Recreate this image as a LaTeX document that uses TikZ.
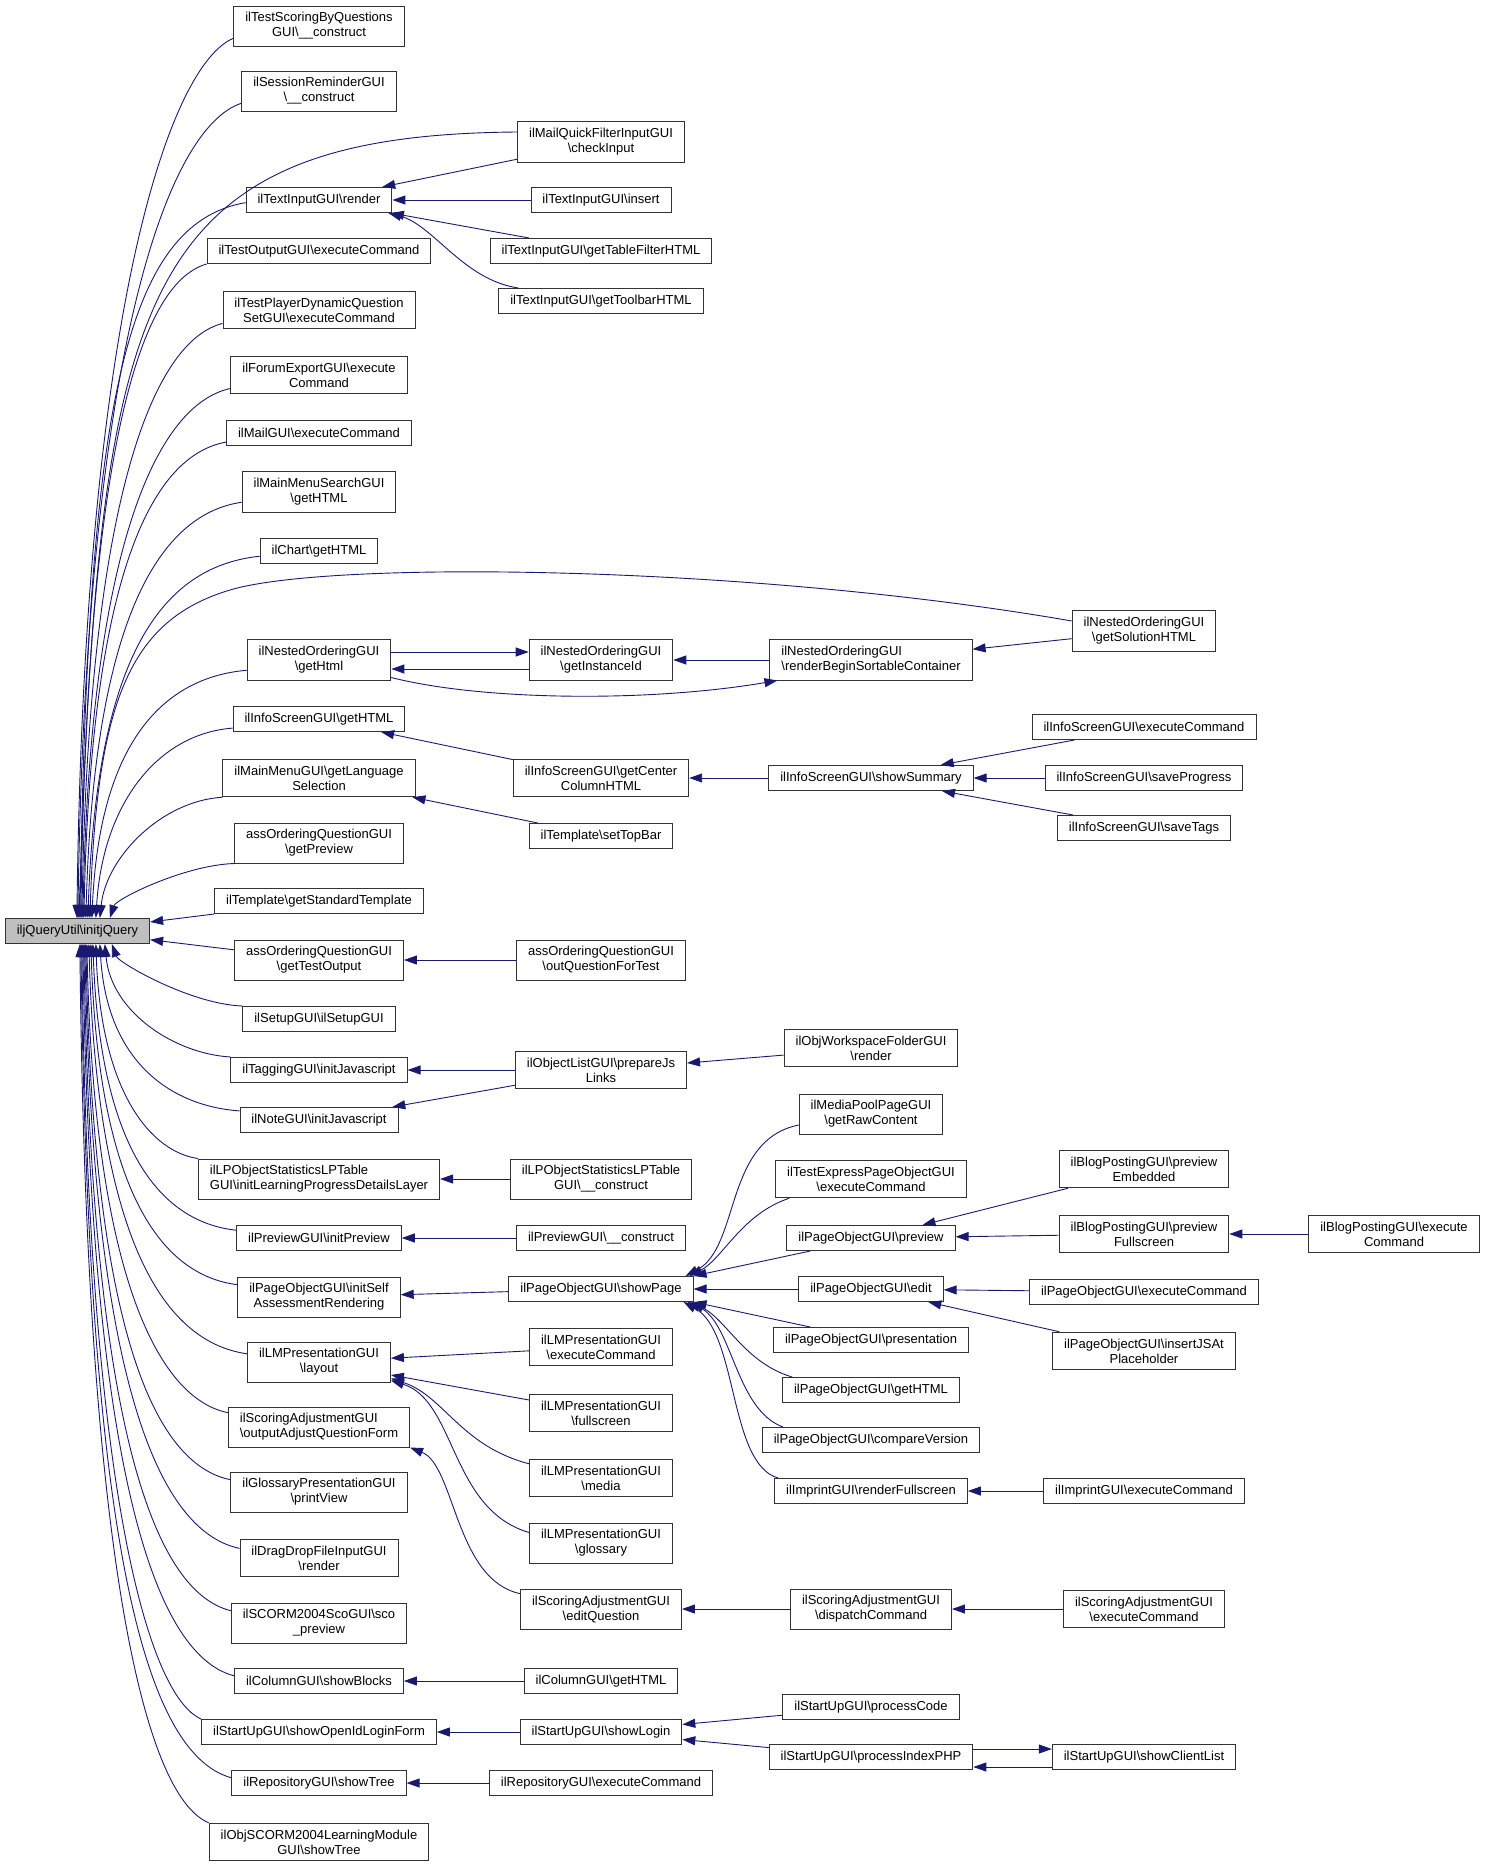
\documentclass[tikz,border=0pt]{standalone}
\usepackage{fontspec}
\setmainfont{Liberation Sans}
\usetikzlibrary{arrows.meta,calc}
\definecolor{edgeblue}{HTML}{191970}
\newcommand{\bsl}{\textbackslash}
\tikzset{
  fn/.style={draw=black!80, line width=0.9pt, fill=white, align=center,
    inner xsep=11.5pt, inner ysep=6.5pt, minimum height=25pt,
    font=\fontsize{13}{15}\selectfont},
  rootfn/.style={fn, fill=black!25},
  calls/.style={draw=edgeblue, line width=0.9pt, {Triangle[length=13pt,width=9pt]}-},
}
\begin{document}
\begin{tikzpicture}[x=1pt,y=1pt]
    \useasboundingbox (0,0) rectangle (1485,-1868);

    % the function itself
    \node[rootfn] (root) at (77.5,-931) {iljQueryUtil\bsl initjQuery};

    % direct callers
    \node[fn] (tsq) at (319,-26) {ilTestScoringByQuestions\\GUI\bsl\_\_construct};
    \node[fn] (srem) at (319,-91) {ilSessionReminderGUI\\\bsl\_\_construct};
    \node[fn] (tirender) at (319,-200) {ilTextInputGUI\bsl render};
    \node[fn] (toexec) at (319,-251) {ilTestOutputGUI\bsl executeCommand};
    \node[fn] (tpdyn) at (319,-310) {ilTestPlayerDynamicQuestion\\SetGUI\bsl executeCommand};
    \node[fn] (forum) at (319,-375) {ilForumExportGUI\bsl execute\\Command};
    \node[fn] (mailexec) at (319,-433) {ilMailGUI\bsl executeCommand};
    \node[fn] (mmsearch) at (319,-492) {ilMainMenuSearchGUI\\\bsl getHTML};
    \node[fn] (chart) at (319,-551) {ilChart\bsl getHTML};
    \node[fn] (nogethtml) at (319,-660) {ilNestedOrderingGUI\\\bsl getHtml};
    \node[fn] (isgethtml) at (319,-719) {ilInfoScreenGUI\bsl getHTML};
    \node[fn] (mmlang) at (319,-778) {ilMainMenuGUI\bsl getLanguage\\Selection};
    \node[fn] (aoprev) at (319,-843) {assOrderingQuestionGUI\\\bsl getPreview};
    \node[fn] (tplstd) at (319,-901) {ilTemplate\bsl getStandardTemplate};
    \node[fn] (aotest) at (319,-960) {assOrderingQuestionGUI\\\bsl getTestOutput};
    \node[fn] (setup) at (319,-1019) {ilSetupGUI\bsl ilSetupGUI};
    \node[fn] (tagjs) at (319,-1070) {ilTaggingGUI\bsl initJavascript};
    \node[fn] (notejs) at (319,-1120) {ilNoteGUI\bsl initJavascript};
    \node[fn, align=left] (lplayer) at (319,-1179) {ilLPObjectStatisticsLPTable\\GUI\bsl initLearningProgressDetailsLayer};
    \node[fn] (previnit) at (319,-1238) {ilPreviewGUI\bsl initPreview};
    \node[fn] (poself) at (319,-1297) {ilPageObjectGUI\bsl initSelf\\AssessmentRendering};
    \node[fn] (lmlayout) at (319,-1362) {ilLMPresentationGUI\\\bsl layout};
    \node[fn, align=left] (saform) at (319,-1427) {ilScoringAdjustmentGUI\\\bsl outputAdjustQuestionForm};
    \node[fn] (glossprint) at (319,-1492) {ilGlossaryPresentationGUI\\\bsl printView};
    \node[fn] (dragdrop) at (319,-1558) {ilDragDropFileInputGUI\\\bsl render};
    \node[fn] (scoprev) at (319,-1623) {ilSCORM2004ScoGUI\bsl sco\\\_preview};
    \node[fn] (colblocks) at (319,-1681) {ilColumnGUI\bsl showBlocks};
    \node[fn] (openid) at (319,-1732) {ilStartUpGUI\bsl showOpenIdLoginForm};
    \node[fn] (repotree) at (319,-1783) {ilRepositoryGUI\bsl showTree};
    \node[fn] (scormtree) at (319,-1842) {ilObjSCORM2004LearningModule\\GUI\bsl showTree};

    % second level
    \node[fn] (mqcheck) at (601,-142) {ilMailQuickFilterInputGUI\\\bsl checkInput};
    \node[fn] (tiinsert) at (601,-200) {ilTextInputGUI\bsl insert};
    \node[fn] (tifilter) at (601,-251) {ilTextInputGUI\bsl getTableFilterHTML};
    \node[fn] (titoolbar) at (601,-301) {ilTextInputGUI\bsl getToolbarHTML};
    \node[fn] (noinst) at (601,-660) {ilNestedOrderingGUI\\\bsl getInstanceId};
    \node[fn] (iscenter) at (601,-778) {ilInfoScreenGUI\bsl getCenter\\ColumnHTML};
    \node[fn] (tpltop) at (601,-836) {ilTemplate\bsl setTopBar};
    \node[fn] (aoout) at (601,-960) {assOrderingQuestionGUI\\\bsl outQuestionForTest};
    \node[fn] (oljs) at (601,-1070) {ilObjectListGUI\bsl prepareJs\\Links};
    \node[fn] (lpconst) at (601,-1179) {ilLPObjectStatisticsLPTable\\GUI\bsl\_\_construct};
    \node[fn] (prevconst) at (601,-1238) {ilPreviewGUI\bsl\_\_construct};
    \node[fn] (poshow) at (601,-1289) {ilPageObjectGUI\bsl showPage};
    \node[fn] (lmexec) at (601,-1347) {ilLMPresentationGUI\\\bsl executeCommand};
    \node[fn] (lmfull) at (601,-1413) {ilLMPresentationGUI\\\bsl fullscreen};
    \node[fn] (lmmedia) at (601,-1478) {ilLMPresentationGUI\\\bsl media};
    \node[fn] (lmgloss) at (601,-1543) {ilLMPresentationGUI\\\bsl glossary};
    \node[fn] (saedit) at (601,-1609) {ilScoringAdjustmentGUI\\\bsl editQuestion};
    \node[fn] (colhtml) at (601,-1681) {ilColumnGUI\bsl getHTML};
    \node[fn] (sulogin) at (601,-1732) {ilStartUpGUI\bsl showLogin};
    \node[fn] (repoexec) at (601,-1783) {ilRepositoryGUI\bsl executeCommand};

    % third level
    \node[fn, align=left] (norender) at (871,-660) {ilNestedOrderingGUI\\\bsl renderBeginSortableContainer};
    \node[fn] (issummary) at (871,-778) {ilInfoScreenGUI\bsl showSummary};
    \node[fn] (owsrender) at (871,-1048) {ilObjWorkspaceFolderGUI\\\bsl render};
    \node[fn] (mpraw) at (871,-1114) {ilMediaPoolPageGUI\\\bsl getRawContent};
    \node[fn] (tepexec) at (871,-1179) {ilTestExpressPageObjectGUI\\\bsl executeCommand};
    \node[fn] (poprev) at (871,-1238) {ilPageObjectGUI\bsl preview};
    \node[fn] (poedit) at (871,-1289) {ilPageObjectGUI\bsl edit};
    \node[fn] (popres) at (871,-1340) {ilPageObjectGUI\bsl presentation};
    \node[fn] (pohtml) at (871,-1390) {ilPageObjectGUI\bsl getHTML};
    \node[fn] (pocomp) at (871,-1440) {ilPageObjectGUI\bsl compareVersion};
    \node[fn] (imprfull) at (871,-1491) {ilImprintGUI\bsl renderFullscreen};
    \node[fn] (sadispatch) at (871,-1609) {ilScoringAdjustmentGUI\\\bsl dispatchCommand};
    \node[fn] (sucode) at (871,-1707) {ilStartUpGUI\bsl processCode};
    \node[fn] (suindex) at (871,-1757) {ilStartUpGUI\bsl processIndexPHP};

    % fourth and fifth level
    \node[fn] (nosol) at (1144,-631) {ilNestedOrderingGUI\\\bsl getSolutionHTML};
    \node[fn] (isexec) at (1144,-727) {ilInfoScreenGUI\bsl executeCommand};
    \node[fn] (isprog) at (1144,-778) {ilInfoScreenGUI\bsl saveProgress};
    \node[fn] (istags) at (1144,-828) {ilInfoScreenGUI\bsl saveTags};
    \node[fn] (bpemb) at (1144,-1169) {ilBlogPostingGUI\bsl preview\\Embedded};
    \node[fn] (bpfull) at (1144,-1234) {ilBlogPostingGUI\bsl preview\\Fullscreen};
    \node[fn] (poexec) at (1144,-1292) {ilPageObjectGUI\bsl executeCommand};
    \node[fn] (pojs) at (1144,-1351) {ilPageObjectGUI\bsl insertJSAt\\Placeholder};
    \node[fn] (imprexec) at (1144,-1491) {ilImprintGUI\bsl executeCommand};
    \node[fn] (saexec) at (1144,-1609) {ilScoringAdjustmentGUI\\\bsl executeCommand};
    \node[fn] (suclient) at (1144,-1757) {ilStartUpGUI\bsl showClientList};
    \node[fn] (bpexec) at (1394,-1234) {ilBlogPostingGUI\bsl execute\\Command};

    % callers above the root: name/tip/entry/rise/bend
    \foreach \nd/\tx/\ff/\bb/\cc in {tsq/72pt/0.8/0.7/0.4, srem/73pt/0.8/0.7/0.45,
        tirender/75pt/0.6/0.7/0.75, toexec/76pt/1/0.7/0.55, tpdyn/77pt/0.85/0.7/0.5,
        forum/78pt/0.85/0.7/0.5, mailexec/79pt/0.85/0.7/0.55, mmsearch/81pt/0.75/0.7/0.55,
        chart/83pt/0.7/0.7/0.6, nogethtml/87pt/0.75/0.7/0.55, isgethtml/91pt/0.85/0.6/0.55,
        mmlang/95pt/1/0.5/0.5, aoprev/105pt/1/0.35/0.4}
      \draw[calls] let \p1=([xshift=\tx]root.north west),
          \p2=($(\nd.north west)!\ff!(\nd.south west)$) in
        (\p1) .. controls ({\x1+0.05*(\x2-\x1)},{\y1+\bb*(\y2-\y1)})
          and ({\x2-\cc*(\x2-\x1)},{\y2-0.03*(\y2-\y1)}) .. (\p2);

    % callers below the root
    \foreach \nd/\tx/\ff/\bb/\cc in {setup/107pt/0/0.3/0.4, tagjs/100pt/0/0.6/0.45,
        notejs/95pt/0.15/0.7/0.5, lplayer/91pt/0/0.7/0.45, previnit/88pt/0.2/0.7/0.55,
        poself/86pt/0.2/0.7/0.55, lmlayout/84pt/0.3/0.7/0.55, saform/82pt/0.15/0.7/0.5,
        glossprint/81pt/0.2/0.7/0.55, dragdrop/80pt/0.25/0.7/0.55, scoprev/79pt/0.2/0.7/0.55,
        colblocks/78pt/0.3/0.7/0.55, openid/77pt/0/0.7/0.45, repotree/76pt/0.3/0.7/0.6,
        scormtree/75pt/0/0.7/0.5}
      \draw[calls] let \p1=([xshift=\tx]root.south west),
          \p2=($(\nd.north west)!\ff!(\nd.south west)$) in
        (\p1) .. controls ({\x1+0.05*(\x2-\x1)},{\y1+\bb*(\y2-\y1)})
          and ({\x2-\cc*(\x2-\x1)},{\y2-0.03*(\y2-\y1)}) .. (\p2);

    % long ones and the two next to the root
    \draw[calls] ([xshift=74pt]root.north west) .. controls (100,-300) and (130,-135)
        .. ([yshift=10pt]mqcheck.west);
    \draw[calls] ([xshift=85pt]root.north west) .. controls (97,-700) and (130,-620)
        .. (230,-590) .. controls (330,-560) and (750,-565) .. ([yshift=10pt]nosol.west);
    \draw[calls] (root) -- (tplstd);
    \draw[calls] (root) -- (aotest);

    % text input
    \draw[calls] (tirender) -- (mqcheck);
    \draw[calls] (tirender) -- (tiinsert);
    \draw[calls] (tirender) -- (tifilter);
    \draw[calls] ([xshift=-4pt]tirender.south east) .. controls +(45,-12) and +(-55,8)
        .. ([xshift=20pt]titoolbar.north west);

    % nested ordering
    \draw[calls] ([yshift=8pt]noinst.west) -- ([yshift=8pt]nogethtml.east);
    \draw[calls] ([yshift=-9pt]nogethtml.east) -- ([yshift=-9pt]noinst.west);
    \draw[calls] (noinst) -- (norender);
    \draw[calls] ([xshift=8pt]norender.south west) .. controls +(-130,-22) and +(90,-23)
        .. ([yshift=3pt]nogethtml.south east);
    \draw[calls] (norender) -- (nosol);

    % info screen
    \draw[calls] (isgethtml) -- (iscenter);
    \draw[calls] (mmlang) -- (tpltop);
    \draw[calls] (iscenter) -- (issummary);
    \draw[calls] (issummary) -- (isexec);
    \draw[calls] (issummary) -- (isprog);
    \draw[calls] (issummary) -- (istags);

    \draw[calls] (aotest) -- (aoout);
    \draw[calls] (tagjs) -- (oljs);
    \draw[calls] (notejs) -- (oljs);
    \draw[calls] (oljs) -- (owsrender);
    \draw[calls] (lplayer) -- (lpconst);
    \draw[calls] (previnit) -- (prevconst);
    \draw[calls] (poself) -- (poshow);

    % page object
    \draw[calls] ([xshift=-8pt]poshow.north east) .. controls +(55,29) and +(-75,-15)
        .. ([yshift=-11pt]mpraw.west);
    \draw[calls] ([xshift=-4pt]poshow.north east) .. controls +(33,17) and +(-48,-16)
        .. ([xshift=14pt]tepexec.south west);
    \draw[calls] (poshow.north east) -- (poprev);
    \draw[calls] (poshow) -- (poedit);
    \draw[calls] (poshow.south east) -- (popres);
    \draw[calls] ([xshift=-2pt]poshow.south east) .. controls +(35,-18) and +(-47,14)
        .. ([xshift=10pt]pohtml.north west);
    \draw[calls] ([xshift=-6pt]poshow.south east) .. controls +(45,-20) and +(-48,18)
        .. ([xshift=21pt]pocomp.north west);
    \draw[calls] ([xshift=-10pt]poshow.south east) .. controls +(55,-30) and +(-50,14)
        .. ([xshift=4pt]imprfull.north west);
    \draw[calls] (poprev) -- (bpemb);
    \draw[calls] (poprev) -- (bpfull);
    \draw[calls] (bpfull) -- (bpexec);
    \draw[calls] (poedit) -- (poexec);
    \draw[calls] (poedit) -- (pojs);
    \draw[calls] (imprfull) -- (imprexec);

    % learning module
    \draw[calls] (lmlayout) -- (lmexec);
    \draw[calls] (lmlayout) -- (lmfull);
    \draw[calls] ([yshift=4pt]lmlayout.south east) .. controls +(53,-17) and +(-69,18)
        .. ([yshift=-5pt]lmmedia.north west);
    \draw[calls] ([yshift=2pt]lmlayout.south east) .. controls +(65,-20) and +(-79,23)
        .. ([yshift=-10pt]lmgloss.north west);

    % scoring adjustment
    \draw[calls] (saform.south east) .. controls +(45,-18) and +(-65,14)
        .. ([yshift=-5pt]saedit.north west);
    \draw[calls] (saedit) -- (sadispatch);
    \draw[calls] (sadispatch) -- (saexec);

    % start up and the rest
    \draw[calls] (colblocks) -- (colhtml);
    \draw[calls] (openid) -- (sulogin);
    \draw[calls] (sulogin) -- (sucode);
    \draw[calls] (sulogin) -- (suindex);
    \draw[calls] ([yshift=8pt]suclient.west) -- ([yshift=8pt]suindex.east);
    \draw[calls] ([yshift=-10pt]suindex.east) -- ([yshift=-10pt]suclient.west);
    \draw[calls] (repotree) -- (repoexec);
\end{tikzpicture}
\end{document}
